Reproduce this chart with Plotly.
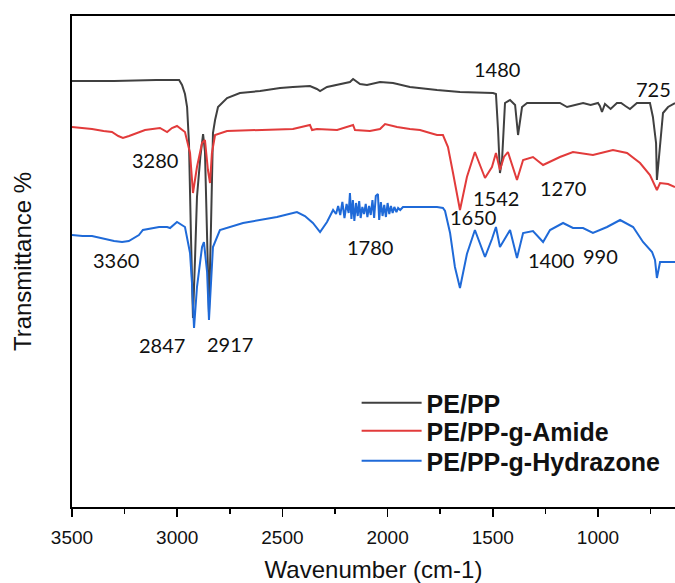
import plotly.graph_objects as go

# ---- Data (wavenumber in cm-1, transmittance in arbitrary offset %) ----
pe_wn = [3500, 3400, 3300, 3100, 2996, 2991, 2977, 2963, 2953, 2944, 2935, 2925, 2915, 2906, 2890,
         2877, 2868, 2858, 2849, 2840, 2830, 2820, 2806, 2763, 2702, 2606, 2511, 2450, 2369, 2336,
         2321, 2288, 2240, 2179, 2164, 2131, 2098, 2036, 1974, 1894, 1765, 1656, 1499, 1485, 1475,
         1466, 1456, 1442, 1418, 1394, 1380, 1370, 1361, 1337, 1181, 1147, 1071, 1035, 1000, 991,
         981, 967, 940, 910, 890, 870, 848, 815, 753, 739, 724, 720, 705, 691, 667, 634]
pe_t = [85.2, 85.2, 85.2, 85.4, 85.4, 85.4, 84.4, 82.6, 80.0, 72.8, 55.0, 37.8, 50.0, 62.0, 70.0,
        74.6, 71.0, 55.0, 39.0, 55.0, 74.8, 77.4, 80.0, 81.8, 82.8, 83.2, 83.8, 84.0, 84.2, 83.6,
        83.2, 84.0, 84.4, 85.0, 85.6, 84.6, 84.4, 85.0, 84.8, 84.0, 83.4, 83.0, 82.8, 82.6, 75.4,
        66.8, 69.4, 80.8, 81.4, 80.4, 74.4, 77.4, 80.0, 80.8, 80.8, 80.0, 80.8, 80.4, 80.8, 80.2,
        79.0, 80.6, 79.6, 80.8, 80.8, 80.2, 79.6, 80.8, 80.8, 78.0, 72.8, 65.4, 72.8, 78.8, 80.0, 80.8]

amide_wn = [3500, 3450, 3405, 3350, 3310, 3280, 3258, 3229, 3182, 3153, 3082, 3048, 3025, 3001, 2963,
            2939, 2925, 2906, 2882, 2868, 2854, 2844, 2835, 2820, 2763, 2606, 2450, 2369, 2359, 2336,
            2240, 2164, 2155, 2084, 2036, 2012, 1955, 1894, 1846, 1798, 1765, 1737, 1713, 1689, 1656,
            1623, 1585, 1537, 1504, 1485, 1466, 1447, 1428, 1385, 1356, 1309, 1261, 1181, 1119, 1024,
            929, 862, 800, 753, 720, 705, 667, 634]
amide_t = [76.0, 75.8, 75.6, 75.2, 75.0, 74.2, 73.8, 74.2, 75.0, 75.4, 75.8, 75.0, 75.8, 76.2, 75.0,
           70.8, 62.8, 68.0, 72.8, 73.4, 67.4, 64.8, 70.8, 74.4, 75.2, 75.4, 75.6, 76.4, 75.4, 75.6,
           75.4, 76.4, 75.4, 75.2, 75.6, 76.6, 76.0, 75.6, 75.4, 74.8, 74.4, 74.4, 72.0, 66.8, 59.4,
           66.0, 71.0, 65.8, 68.0, 70.8, 67.4, 70.0, 71.0, 65.4, 69.4, 70.0, 68.4, 70.0, 71.0, 70.4,
           71.4, 70.8, 68.8, 66.4, 63.4, 64.8, 64.6, 64.0]

hyd_wn = [3500, 3450, 3405, 3343, 3300, 3262, 3230, 3182, 3163, 3086, 3048, 3034, 3001, 2963, 2939,
          2930, 2920, 2906, 2882, 2873, 2858, 2849, 2839, 2830, 2797, 2687, 2526, 2431, 2393, 2355,
          2321, 2288, 2259, 2245, 2235, 2225, 2215, 2205, 2195, 2185, 2179, 2172, 2165, 2158, 2150,
          2142, 2135, 2128, 2120, 2112, 2104, 2096, 2088, 2080, 2072, 2064, 2056, 2046, 2040, 2032,
          2024, 2016, 2008, 2000, 1992, 1984, 1976, 1968, 1958, 1950, 1940, 1927, 1894, 1846, 1765,
          1737, 1727, 1703, 1680, 1656, 1623, 1585, 1537, 1504, 1485, 1466, 1447, 1418, 1385, 1356,
          1309, 1261, 1228, 1166, 1119, 1071, 1024, 957, 895, 833, 786, 743, 729, 720, 705, 667, 634]
hyd_t = [54.4, 54.2, 54.2, 53.6, 53.2, 53.0, 53.2, 54.4, 55.4, 56.0, 56.0, 55.8, 57.0, 56.0, 50.8,
         45.0, 35.8, 44.0, 52.0, 53.0, 47.0, 37.4, 45.0, 52.0, 55.4, 56.8, 58.0, 59.0, 58.2, 56.8,
         55.0, 57.0, 59.4, 58.6, 60.2, 58.4, 61.0, 57.8, 60.6, 58.8, 62.8, 57.6, 61.4, 57.2, 60.8,
         58.2, 61.2, 57.8, 60.0, 58.6, 60.6, 58.0, 60.2, 58.4, 61.4, 57.8, 62.2, 62.6, 57.4, 61.0,
         58.2, 60.4, 58.0, 60.8, 58.6, 60.2, 58.8, 60.0, 59.0, 59.8, 59.4, 60.0, 60.0, 60.0, 60.0,
         59.8, 59.2, 54.8, 48.0, 43.8, 50.6, 55.4, 50.0, 53.6, 56.0, 52.0, 53.4, 55.4, 49.8, 54.8,
         55.2, 53.0, 55.4, 56.8, 55.8, 55.8, 54.8, 56.0, 57.4, 56.0, 53.0, 51.0, 49.4, 45.8, 49.0, 49.0, 49.0]

series_names = ["PE/PP", "PE/PP-g-Amide", "PE/PP-g-Hydrazone"]
series_colors = ["#404040", "#e23b3b", "#1f6ad8"]

peak_labels = ["1480", "725", "3280", "1542", "1270", "1650", "1780", "1400", "990", "3360", "2847", "2917"]
peak_label_x = [1482, 738, 3105, 1485, 1166, 1594, 2084, 1223, 986, 3291, 3072, 2749]
peak_label_y = [87.6, 83.6, 69.5, 61.8, 63.8, 58.0, 52.0, 49.4, 50.2, 49.4, 32.4, 32.6]

legend_ids = ["legend", "legend2", "legend3"]
legend_y = [0.2118, 0.1547, 0.0936]

fig = go.Figure()
for wn, t, name, col, lid in zip([pe_wn, amide_wn, hyd_wn], [pe_t, amide_t, hyd_t],
                                 series_names, series_colors, legend_ids):
    fig.add_trace(go.Scatter(x=wn, y=t, mode="lines", name=name, legend=lid,
                             line=dict(color=col, width=2)))

for txt, xv, yv in zip(peak_labels, peak_label_x, peak_label_y):
    fig.add_annotation(x=xv, y=yv, text=txt, showarrow=False,
                       font=dict(family="Lato", size=20, color="#111111"))

legend_font = dict(family="Liberation Sans, Arial", size=25, color="#111111", weight="bold")
legend_common = dict(x=0.472, xanchor="left", yanchor="middle", bgcolor="rgba(0,0,0,0)",
                     itemwidth=60, font=legend_font)

fig.update_layout(
    width=675, height=583,
    margin=dict(l=72, r=0, t=16, b=76),
    paper_bgcolor="white", plot_bgcolor="white",
    showlegend=True,
    legend=dict(y=legend_y[0], **legend_common),
    legend2=dict(y=legend_y[1], **legend_common),
    legend3=dict(y=legend_y[2], **legend_common),
    xaxis=dict(range=[3500, 634], showgrid=False, zeroline=False, automargin=False,
               showline=True, linecolor="black", linewidth=2, mirror=True,
               ticks="outside", ticklen=8, tickwidth=1.5, tickcolor="black",
               tick0=0, dtick=500, ticklabelstandoff=4,
               minor=dict(ticks="outside", ticklen=5, tickwidth=1.5, tickcolor="black", dtick=250),
               tickfont=dict(family="Liberation Sans, Arial", size=19, color="#111111"),
               title=dict(text="Wavenumber (cm-1)", standoff=20,
                          font=dict(family="Liberation Sans, Arial", size=24, color="#111111"))),
    yaxis=dict(range=[0, 98.2], showgrid=False, zeroline=False, automargin=False,
               showline=True, linecolor="black", linewidth=2, mirror=False,
               showticklabels=False, ticks="",
               title=dict(text="Transmittance %", standoff=32,
                          font=dict(family="Liberation Sans, Arial", size=24, color="#111111"))),
)

# remove the default page margin so the figure fills the window exactly
fig.write_html("out.html", config={"displayModeBar": False, "staticPlot": True},
               post_script="document.body.style.margin='0';document.body.style.overflow='hidden';")
